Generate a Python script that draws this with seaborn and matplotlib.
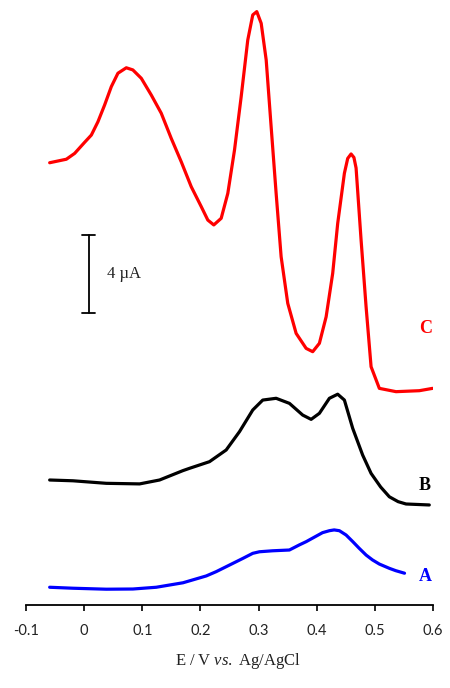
import numpy as np
import pandas as pd
import matplotlib
matplotlib.use("Agg")
import matplotlib.pyplot as plt
import seaborn as sns

# ---- data (potential in V, current in µA, curves stacked with offsets as in the figure)
c_x = [-0.0593, -0.0450, -0.0306, -0.0163, 0.0009, 0.0124, 0.0237, 0.0352, 0.0467, 0.0581,
       0.0725, 0.0838, 0.0983, 0.1155, 0.1326, 0.1498, 0.1670, 0.1842, 0.2014, 0.2127,
       0.2230, 0.2357, 0.2471, 0.2586, 0.2701, 0.2814, 0.2900, 0.2969, 0.3045, 0.3131,
       0.3216, 0.3302, 0.3388, 0.3502, 0.3646, 0.3818, 0.3931, 0.4046, 0.4162, 0.4275,
       0.4361, 0.4476, 0.4533, 0.4591, 0.4640, 0.4677, 0.4763, 0.4849, 0.4935, 0.5077,
       0.5364, 0.5765, 0.5993]
c_y = [22.68, 22.77, 22.86, 23.16, 23.73, 24.10, 24.78, 25.64, 26.58, 27.27,
       27.55, 27.44, 27.01, 26.15, 25.22, 23.93, 22.73, 21.45, 20.43, 19.74,
       19.49, 19.83, 21.11, 23.33, 26.07, 28.97, 30.26, 30.43, 29.83, 27.95,
       24.53, 21.11, 17.86, 15.47, 13.93, 13.16, 12.99, 13.42, 14.78, 17.01,
       19.57, 22.14, 22.90, 23.13, 22.95, 22.41, 18.72, 15.30, 12.22, 11.11,
       10.94, 10.99, 11.11]

b_x = [-0.0593, -0.0192, 0.0381, 0.0954, 0.1297, 0.1698, 0.1813, 0.2156, 0.2443, 0.2672,
       0.2900, 0.3072, 0.3302, 0.3531, 0.3759, 0.3904, 0.4046, 0.4218, 0.4361, 0.4476,
       0.4619, 0.4790, 0.4935, 0.5100, 0.5249, 0.5400, 0.5536, 0.5936]
b_y = [6.41, 6.37, 6.24, 6.21, 6.41, 6.89, 7.01, 7.35, 7.95, 8.89,
       10.00, 10.51, 10.60, 10.34, 9.74, 9.52, 9.83, 10.60, 10.81, 10.51,
       9.06, 7.69, 6.75, 6.05, 5.55, 5.30, 5.18, 5.13]

a_x = [-0.0593, -0.0192, 0.0381, 0.0838, 0.124, 0.170, 0.210, 0.2271, 0.244, 0.273,
       0.290, 0.3015, 0.324, 0.353, 0.370, 0.382, 0.410, 0.4218, 0.430, 0.439,
       0.4505, 0.462, 0.473, 0.485, 0.496, 0.5077, 0.525, 0.536, 0.551]
a_y = [0.91, 0.86, 0.81, 0.82, 0.91, 1.14, 1.49, 1.71, 1.96, 2.39,
       2.65, 2.73, 2.78, 2.82, 3.08, 3.25, 3.71, 3.81, 3.85, 3.81,
       3.59, 3.25, 2.91, 2.56, 2.31, 2.10, 1.88, 1.76, 1.63]

curve_names = ["A", "B", "C"]
curve_colors = ["#0000FF", "#000000", "#FF0000"]
x_ticks = [-0.1, 0, 0.1, 0.2, 0.3, 0.4, 0.5, 0.6]
x_tick_labels = ["-0.1", "0", "0.1", "0.2", "0.3", "0.4", "0.5", "0.6"]
label_pos = {"A": (0.587, 1.44), "B": (0.585, 6.15), "C": (0.587, 14.2)}
scale_bar = (14.97, 18.97)  # 4 µA

df = pd.concat([
    pd.DataFrame({"E": a_x, "I": a_y, "curve": "A"}),
    pd.DataFrame({"E": b_x, "I": b_y, "curve": "B"}),
    pd.DataFrame({"E": c_x, "I": c_y, "curve": "C"}),
], ignore_index=True)

sns.set_theme(style="white")
plt.rcParams["mathtext.fontset"] = "custom"
plt.rcParams["mathtext.rm"] = "Liberation Serif"
plt.rcParams["mathtext.it"] = "Liberation Serif:italic"

fig = plt.figure(figsize=(4.5, 6.88), dpi=100)
ax = fig.add_axes([26 / 450, 83 / 688, 407 / 450, 605 / 688])

sns.lineplot(data=df, x="E", y="I", hue="curve", hue_order=curve_names,
             palette=curve_colors, sort=False, estimator=None, linewidth=2.3,
             legend=False, ax=ax, solid_joinstyle="round", solid_capstyle="round")

ax.set_xlim(-0.1, 0.6)
ax.set_ylim(0, 605 / 19.5)
for s in ["left", "right", "top"]:
    ax.spines[s].set_visible(False)
ax.spines["bottom"].set_color("black")
ax.spines["bottom"].set_linewidth(1.3)
ax.set_yticks([])
ax.set_xticks(x_ticks)
ax.set_xticklabels(x_tick_labels, fontfamily="Lato", fontsize=10.5, color="#222222")
ax.tick_params(axis="x", direction="out", length=4, width=1.2, color="black", pad=10,
               bottom=True)
ax.set_ylabel("")
ax.set_xlabel(r"$\mathrm{E\ /\ V}\ \mathit{vs.}\ \mathrm{Ag/AgCl}$", fontsize=12,
              labelpad=9, color="#222222")
ax.xaxis.label.set_x((238 - 26) / 407)
ax.grid(False)

for name, col in zip(curve_names, curve_colors):
    lx, ly = label_pos[name]
    ax.text(lx, ly, name, color=col, fontsize=13, fontweight="bold",
            fontfamily="Liberation Serif", ha="center", va="center")

# scale bar
bx = 0.0077
ax.plot([bx, bx], list(scale_bar), color="black", lw=1.3)
for yv in scale_bar:
    ax.plot([bx - 0.011, bx + 0.011], [yv, yv], color="black", lw=1.3)
ax.text(0.0387, sum(scale_bar) / 2, "4 µA", fontsize=12, fontfamily="Liberation Serif",
        ha="left", va="center", color="#222222")

fig.savefig("out.png", dpi=100)
